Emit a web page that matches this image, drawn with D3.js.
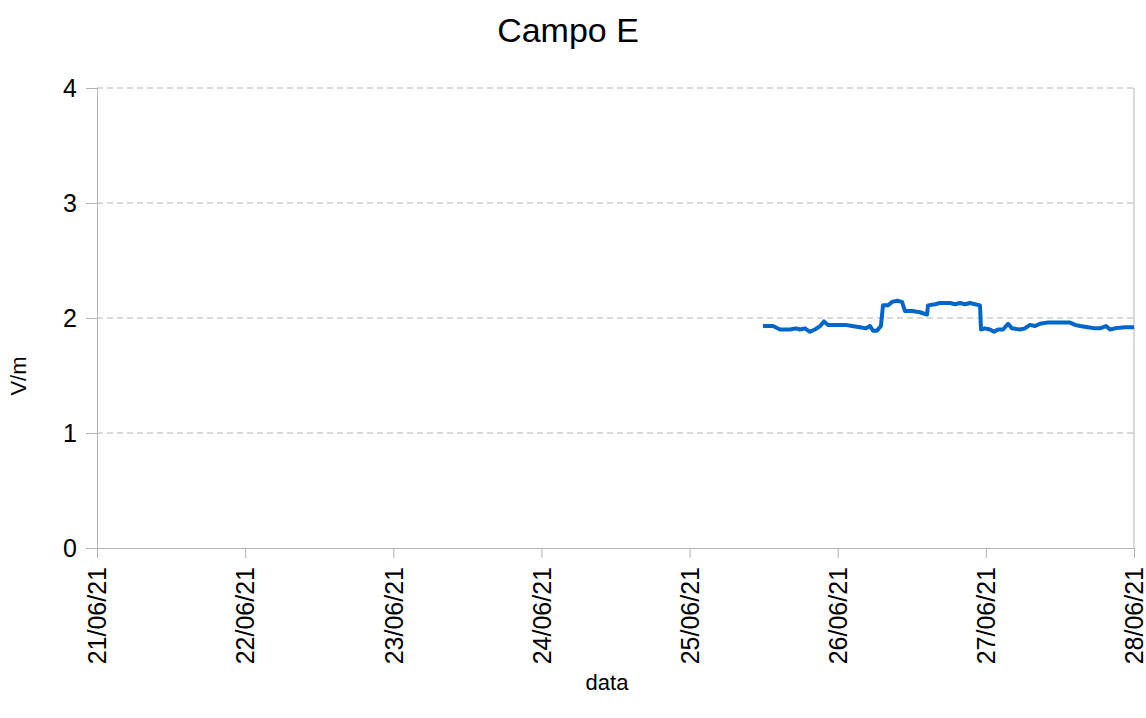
<!DOCTYPE html>
<html>
<head>
<meta charset="utf-8">
<script src="https://cdn.jsdelivr.net/npm/d3@7"></script>
<style>
  body { margin: 0; background: #fff; }
  svg text { font-family: "Liberation Sans", Arial, sans-serif; fill: #000; }
</style>
</head>
<body>
<div id="chart-area"></div>
<script>
// data (time of reading, V/m)
var times = ["2021-06-25 11:54","2021-06-25 13:31","2021-06-25 14:39","2021-06-25 16:16","2021-06-25 17:14",
  "2021-06-25 17:53","2021-06-25 18:42","2021-06-25 19:30","2021-06-25 20:19","2021-06-25 21:09",
  "2021-06-25 21:47","2021-06-25 22:26","2021-06-26 01:11","2021-06-26 02:20","2021-06-26 03:37",
  "2021-06-26 04:35","2021-06-26 05:14","2021-06-26 05:43","2021-06-26 06:22","2021-06-26 07:00",
  "2021-06-26 07:20","2021-06-26 08:10","2021-06-26 08:48","2021-06-26 09:36","2021-06-26 10:25",
  "2021-06-26 10:54","2021-06-26 12:03","2021-06-26 13:20","2021-06-26 14:28","2021-06-26 14:38",
  "2021-06-26 15:46","2021-06-26 16:34","2021-06-26 18:12","2021-06-26 19:00","2021-06-26 19:49",
  "2021-06-26 20:37","2021-06-26 21:26","2021-06-26 22:15","2021-06-26 23:03","2021-06-26 23:13",
  "2021-06-26 23:51","2021-06-27 00:40","2021-06-27 01:19","2021-06-27 01:58","2021-06-27 02:47",
  "2021-06-27 03:36","2021-06-27 04:14","2021-06-27 05:32","2021-06-27 06:20","2021-06-27 07:09",
  "2021-06-27 07:58","2021-06-27 08:47","2021-06-27 09:55","2021-06-27 12:01","2021-06-27 13:38",
  "2021-06-27 14:27","2021-06-27 15:15","2021-06-27 16:33","2021-06-27 17:41","2021-06-27 18:30",
  "2021-06-27 19:28","2021-06-27 20:07","2021-06-27 20:56","2021-06-27 22:32","2021-06-28 00:00"];
var values = [1.93,1.93,1.90,1.90,1.91,
  1.90,1.91,1.88,1.90,1.93,
  1.97,1.94,1.94,1.93,1.92,
  1.91,1.93,1.89,1.89,1.93,
  2.11,2.11,2.14,2.15,2.14,
  2.06,2.06,2.05,2.03,2.11,
  2.12,2.13,2.13,2.12,2.13,
  2.12,2.13,2.12,2.11,1.90,
  1.91,1.90,1.88,1.90,1.90,
  1.95,1.91,1.90,1.91,1.94,
  1.93,1.95,1.96,1.96,1.96,
  1.94,1.93,1.92,1.91,1.91,
  1.93,1.90,1.91,1.92,1.92];
var xTicks = ["2021-06-21","2021-06-22","2021-06-23","2021-06-24","2021-06-25","2021-06-26","2021-06-27","2021-06-28"];
var yTicks = [0, 1, 2, 3, 4];

var parseTime = d3.timeParse("%Y-%m-%d %H:%M");
var parseDay = d3.timeParse("%Y-%m-%d");

var data = times.map(function(t, i){ return {date: parseTime(t), value: values[i]}; });
var tickDates = xTicks.map(function(d){ return parseDay(d); });

var margin = {top: 88, right: 12, bottom: 170, left: 97};
var width = 1146 - margin.left - margin.right;
var height = 718 - margin.top - margin.bottom;

var svg = d3.select("#chart-area").append("svg")
            .attr("width", 1146)
            .attr("height", 718);

var g = svg.append("g")
           .attr("transform", "translate(" + margin.left + ", " + margin.top + ")");

var x = d3.scaleTime()
          .domain([tickDates[0], tickDates[tickDates.length - 1]])
          .range([0, width]);

var y = d3.scaleLinear()
          .domain([0, 4])
          .range([height, 0]);

// gridlines
g.append("g")
  .selectAll("line")
  .data(yTicks.filter(function(d){ return d > 0; }))
  .enter().append("line")
  .attr("x1", 0)
  .attr("x2", width)
  .attr("y1", function(d){ return y(d); })
  .attr("y2", function(d){ return y(d); })
  .attr("stroke", "#b3b3b3")
  .attr("stroke-width", 1)
  .attr("stroke-dasharray", "6,4");

// right border
g.append("line")
  .attr("x1", width).attr("x2", width)
  .attr("y1", 0).attr("y2", height)
  .attr("stroke", "#b3b3b3");

var leftAxis = d3.axisLeft(y)
                 .tickValues(yTicks)
                 .tickSize(11)
                 .tickPadding(9)
                 .tickFormat(d3.format("d"));

var yAxisGroup = g.append("g")
                  .attr("font-family", null)
                  .call(leftAxis);
yAxisGroup.attr("font-family", null).attr("font-size", null);
yAxisGroup.select(".domain").attr("stroke", "#b3b3b3");
yAxisGroup.selectAll(".tick line").attr("stroke", "#b3b3b3");
yAxisGroup.selectAll("text")
  .style("font-size", "25px")
  .attr("dy", "0.35em");

var bottomAxis = d3.axisBottom(x)
                   .tickValues(tickDates)
                   .tickSize(10)
                   .tickFormat(d3.timeFormat("%d/%m/%y"));

var xAxisGroup = g.append("g")
                  .attr("transform", "translate(0, " + height + ")")
                  .call(bottomAxis);
xAxisGroup.attr("font-family", null).attr("font-size", null);
xAxisGroup.select(".domain").attr("stroke", "#b3b3b3");
xAxisGroup.selectAll(".tick line").attr("stroke", "#b3b3b3");
xAxisGroup.selectAll("text")
  .style("font-size", "25px")
  .attr("text-anchor", "end")
  .attr("transform", "rotate(-90)")
  .attr("x", -19)
  .attr("y", 0)
  .attr("dy", "0.35em");

var line = d3.line()
             .x(function(d){ return x(d.date); })
             .y(function(d){ return y(d.value); });

g.append("path")
  .datum(data)
  .attr("fill", "none")
  .attr("stroke", "#0066cc")
  .attr("stroke-width", 4)
  .attr("stroke-linejoin", "round")
  .attr("d", line);

// titles
svg.append("text")
  .attr("x", 568)
  .attr("y", 42)
  .style("font-size", "34px")
  .attr("text-anchor", "middle")
  .text("Campo E");

svg.append("text")
  .attr("x", 607)
  .attr("y", 690)
  .style("font-size", "22px")
  .attr("text-anchor", "middle")
  .text("data");

svg.append("text")
  .attr("transform", "translate(26, 376) rotate(-90)")
  .style("font-size", "22px")
  .attr("text-anchor", "middle")
  .text("V/m");
</script>
</body>
</html>
